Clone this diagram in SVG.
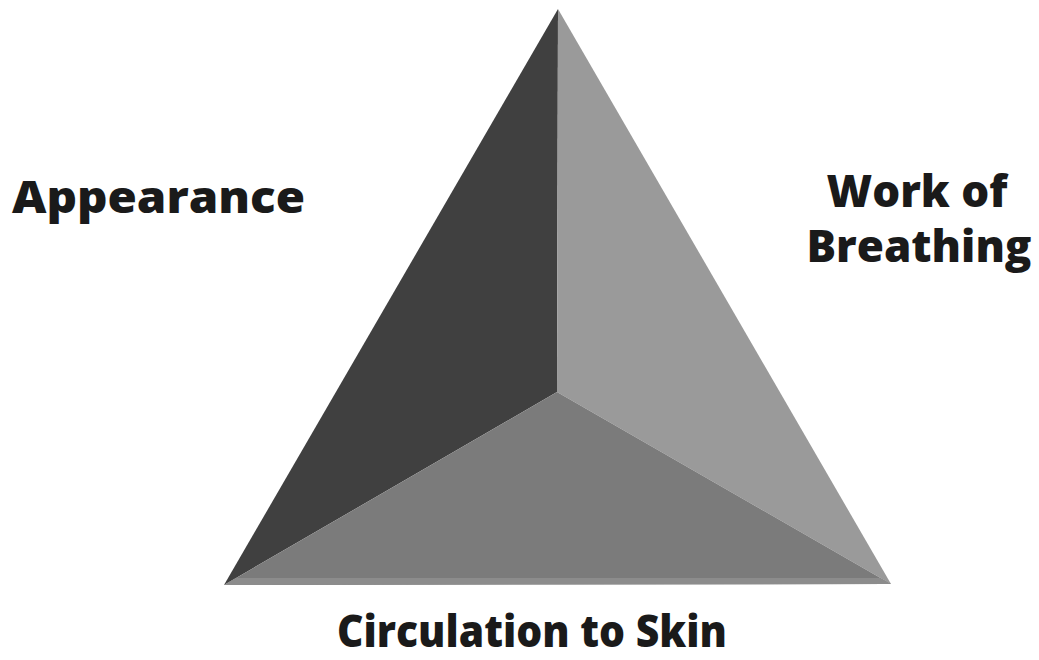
<svg xmlns="http://www.w3.org/2000/svg" width="1039" height="660" viewBox="0 0 1039 660">
<style>
.lbl{font-family:"Open Sans","Liberation Sans",sans-serif;font-weight:800;font-size:44px;fill:#1a1a1a}
</style>
<rect width="1039" height="660" fill="#fff"/>
<g id="pyramid">
<polygon points="558,9 557,392 224,585" fill="#404040"/>
<polygon points="558,9 891,584 557,392" fill="#9a9a9a"/>
<polygon points="224,585 557,392 891,584" fill="#7b7b7b"/>
<polygon points="224,585 891,584 880,578 236,578" fill="#8c8c8c"/>
</g>
<g id="appearance"><text class="lbl" x="12" y="213" textLength="293" lengthAdjust="spacingAndGlyphs">Appearance</text></g>
<g id="work-of-breathing">
<text class="lbl" x="917" y="207" text-anchor="middle">Work of</text>
<text class="lbl" x="919" y="262" text-anchor="middle">Breathing</text>
</g>
<g id="circulation"><text class="lbl" x="337" y="647" textLength="390" lengthAdjust="spacingAndGlyphs">Circulation to Skin</text></g>
</svg>
